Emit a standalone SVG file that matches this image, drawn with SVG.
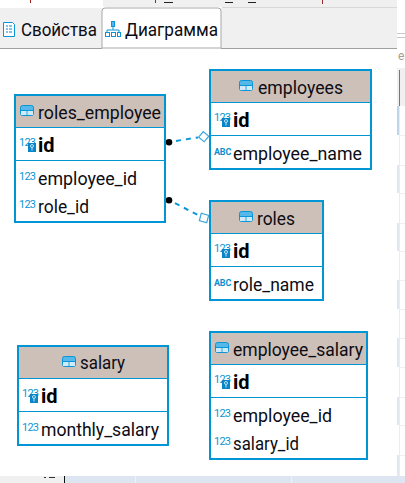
<svg xmlns="http://www.w3.org/2000/svg" xmlns:xlink="http://www.w3.org/1999/xlink" width="405" height="483" viewBox="0 0 405 483">
<style>
text{font-family:Roboto,"Open Sans","Liberation Sans",sans-serif;fill:#0c0c14}
.t{font-size:18.500px}
.b{font-size:20px;font-weight:700;fill:#000}
.n{font-size:11px;fill:#0a96d6;letter-spacing:-.8px}
.a{font-size:9px;font-weight:700;fill:#0a8fd0;letter-spacing:-.2px}
.box{fill:#fff;stroke:#0095d5;stroke-width:2}
.hd{fill:#ccc0b8}
.sep{stroke:#0095d5;stroke-width:1}
.con{fill:none;stroke:#0a96d6;stroke-width:2;stroke-dasharray:5 5}
.dia{fill:#fff;stroke:#3aa6dc;stroke-width:1.2}
.tab{font-size:18.500px}
</style>
<defs>
<g id="tbl"><rect x=".5" y=".5" width="13" height="10" rx="2" fill="#55b8e8" stroke="#0a96d6"/><path d="M1 5.500h12M7 5.500v5" stroke="#0a96d6" fill="none"/><rect x="1" y="6" width="5.500" height="4" fill="#cfeaf8"/><rect x="7.500" y="6" width="5.500" height="4" fill="#cfeaf8"/></g>
<g id="key"><rect x="0" y="0" width="8" height="9" fill="#0a86c8"/><circle cx="4" cy="3" r="1.500" fill="none" stroke="#bfe4f7"/><path d="M4 4.500v3" stroke="#bfe4f7"/></g>
</defs>

<g id="chrome">
<rect width="405" height="483" fill="#fff"/>
<rect x="103" y="0" width="294" height="7" fill="#f0f0f0"/>
<path d="M30.500 0v3M155.500 0v3" stroke="#a02020"/>
<path d="M164 2.500h9M225 2.500h8M248 2.500h8" stroke="#222"/>
<path d="M322.500 0v4" stroke="#903030"/>
<rect x="0" y="8" width="397" height="40" fill="#f0f0f0"/>
<path d="M222 7.500h175" stroke="#d8d8d8"/>
<path d="M0 48.500h102M221 48.500h176" stroke="#a0a0a0"/>
<path d="M102 48V11q0-3 3-3h113q3 0 3 3v37z" fill="#fff" stroke="#a8a8a8"/>
<path d="M397 33.500h8M397 37.500h8" stroke="#c8c8c8"/>
<rect x="397" y="68" width="8" height="38" fill="#f0f0f0"/>
<path d="M399.500 70v36" stroke="#777"/>
<path d="M399.500 106v370" stroke="#ececec"/>
<g fill="#e0e7f1">
<rect x="397" y="106" width="2" height="29" fill="#bdd5ea"/>
<rect x="397" y="165" width="2" height="28"/>
<rect x="397" y="223" width="2" height="28"/>
<rect x="397" y="280" width="2" height="29"/>
<rect x="397" y="338" width="2" height="29"/>
<rect x="397" y="397" width="2" height="28"/>
<rect x="397" y="455" width="2" height="21"/>
</g>
<path d="M400 135.500h5M400 165.500h5M400 193.500h5M400 223.500h5M400 251.500h5M400 280.500h5M400 309.500h5M400 338.500h5M400 367.500h5M400 397.500h5M400 425.500h5M400 455.500h5" stroke="#efefef"/>
<rect x="0" y="476" width="64" height="7" fill="#f0f0f0"/>
<rect x="64" y="476" width="341" height="7" fill="#dde5f0"/>
<path d="M64.500 476v7" stroke="#111"/>
<path d="M135.500 476v7M291.500 476v7" stroke="#eef1f6"/>
<path d="M44 477.500h2M49 477.500h6" stroke="#333"/>
<text x="398" y="60" style="font-size:12px;fill:#a89a90">e</text>
</g>

<g id="tab-properties">
<path d="M3.500 22.500h9l2 2v12h-11z" fill="#fff" stroke="#0a96d6"/>
<path d="M6 26h2M9 26h3M6 29h2M9 29h3M6 32h2M9 32h3" stroke="#0a86c8"/>
<text class="tab" x="21" y="36" textLength="76" lengthAdjust="spacingAndGlyphs">Свойства</text>
</g>
<g id="tab-diagram">
<rect x="111.500" y="21.500" width="3" height="5" fill="#55b8e8" stroke="#0a96d6"/>
<path d="M113 27v3M107 33v-3h12v3" fill="none" stroke="#0a96d6"/>
<rect x="105.500" y="32.500" width="4" height="4" fill="#fff" stroke="#0a96d6"/>
<rect x="111.500" y="32.500" width="4" height="4" fill="#fff" stroke="#0a96d6"/>
<rect x="117.500" y="32.500" width="3" height="4" fill="#fff" stroke="#0a96d6"/>
<text class="tab" x="125" y="36" textLength="93" lengthAdjust="spacingAndGlyphs">Диаграмма</text>
</g>

<g id="connectors">
<path class="con" d="M176 140.900L198 137.500"/>
<path class="con" d="M175 203.200L199 215.500"/>
<circle cx="169" cy="142.300" r="3.300" fill="#000"/>
<circle cx="169" cy="200.300" r="3.300" fill="#000"/>
<rect class="dia" x="-3.600" y="-3.600" width="7.200" height="7.200" transform="translate(203.700 136.700) rotate(40)"/>
<rect class="dia" x="-3.800" y="-3.800" width="7.600" height="7.600" transform="translate(204 218) rotate(15)"/>
</g>

<g id="roles_employee">
<rect class="box" x="15" y="95" width="150" height="127"/>
<rect class="hd" x="16" y="96" width="148" height="31"/>
<path class="sep" d="M15 127.500h150M15 160.500h150"/>
<use xlink:href="#tbl" href="#tbl" x="20" y="105"/>
<text class="t" x="38" y="119" textLength="123" lengthAdjust="spacingAndGlyphs">roles_employee</text>
<text class="n" x="19" y="146">123</text><use href="#key" xlink:href="#key" x="28" y="143"/>
<text class="b" x="38" y="152">id</text>
<text class="n" x="19" y="180">123</text>
<text class="t" x="38" y="185" textLength="99" lengthAdjust="spacingAndGlyphs">employee_id</text>
<text class="n" x="19" y="208">123</text>
<text class="t" x="38" y="213" textLength="51" lengthAdjust="spacingAndGlyphs">role_id</text>
</g>

<g id="employees">
<rect class="box" x="210" y="70" width="161" height="99"/>
<rect class="hd" x="211" y="71" width="159" height="31"/>
<path class="sep" d="M210 102.500h161M210 135.500h161"/>
<use xlink:href="#tbl" href="#tbl" x="239" y="80"/>
<text class="t" x="258" y="94" textLength="85" lengthAdjust="spacingAndGlyphs">employees</text>
<text class="n" x="214" y="121">123</text><use href="#key" xlink:href="#key" x="222" y="118"/>
<text class="b" x="233" y="127">id</text>
<text class="a" x="214" y="155">ABC</text>
<text class="t" x="233" y="160" textLength="129" lengthAdjust="spacingAndGlyphs">employee_name</text>
</g>

<g id="roles">
<rect class="box" x="210" y="201" width="113" height="99"/>
<rect class="hd" x="211" y="202" width="111" height="31"/>
<path class="sep" d="M210 233.500h113M210 266.500h113"/>
<use xlink:href="#tbl" href="#tbl" x="239" y="211"/>
<text class="t" x="257" y="225" textLength="38" lengthAdjust="spacingAndGlyphs">roles</text>
<text class="n" x="214" y="252">123</text><use href="#key" xlink:href="#key" x="222" y="249"/>
<text class="b" x="233" y="258">id</text>
<text class="a" x="214" y="286">ABC</text>
<text class="t" x="233" y="291" textLength="81" lengthAdjust="spacingAndGlyphs">role_name</text>
</g>

<g id="salary">
<rect class="box" x="18" y="346" width="150" height="99"/>
<rect class="hd" x="19" y="347" width="148" height="31"/>
<path class="sep" d="M18 378.500h150M18 411.500h150"/>
<use xlink:href="#tbl" href="#tbl" x="62" y="356"/>
<text class="t" x="80" y="369" textLength="45" lengthAdjust="spacingAndGlyphs">salary</text>
<text class="n" x="22" y="397">123</text><use href="#key" xlink:href="#key" x="30" y="394"/>
<text class="b" x="41" y="403">id</text>
<text class="n" x="22" y="431">123</text>
<text class="t" x="41" y="436" textLength="118" lengthAdjust="spacingAndGlyphs">monthly_salary</text>
</g>

<g id="employee_salary">
<rect class="box" x="210" y="332" width="157" height="127"/>
<rect class="hd" x="211" y="333" width="155" height="31"/>
<path class="sep" d="M210 364.500h157M210 397.500h157"/>
<use xlink:href="#tbl" href="#tbl" x="215" y="342"/>
<text class="t" x="233" y="356" textLength="130" lengthAdjust="spacingAndGlyphs">employee_salary</text>
<text class="n" x="214" y="383">123</text><use href="#key" xlink:href="#key" x="222" y="380"/>
<text class="b" x="233" y="389">id</text>
<text class="n" x="214" y="417">123</text>
<text class="t" x="233" y="422" textLength="99" lengthAdjust="spacingAndGlyphs">employee_id</text>
<text class="n" x="214" y="445">123</text>
<text class="t" x="233" y="450" textLength="66" lengthAdjust="spacingAndGlyphs">salary_id</text>
</g>
</svg>
